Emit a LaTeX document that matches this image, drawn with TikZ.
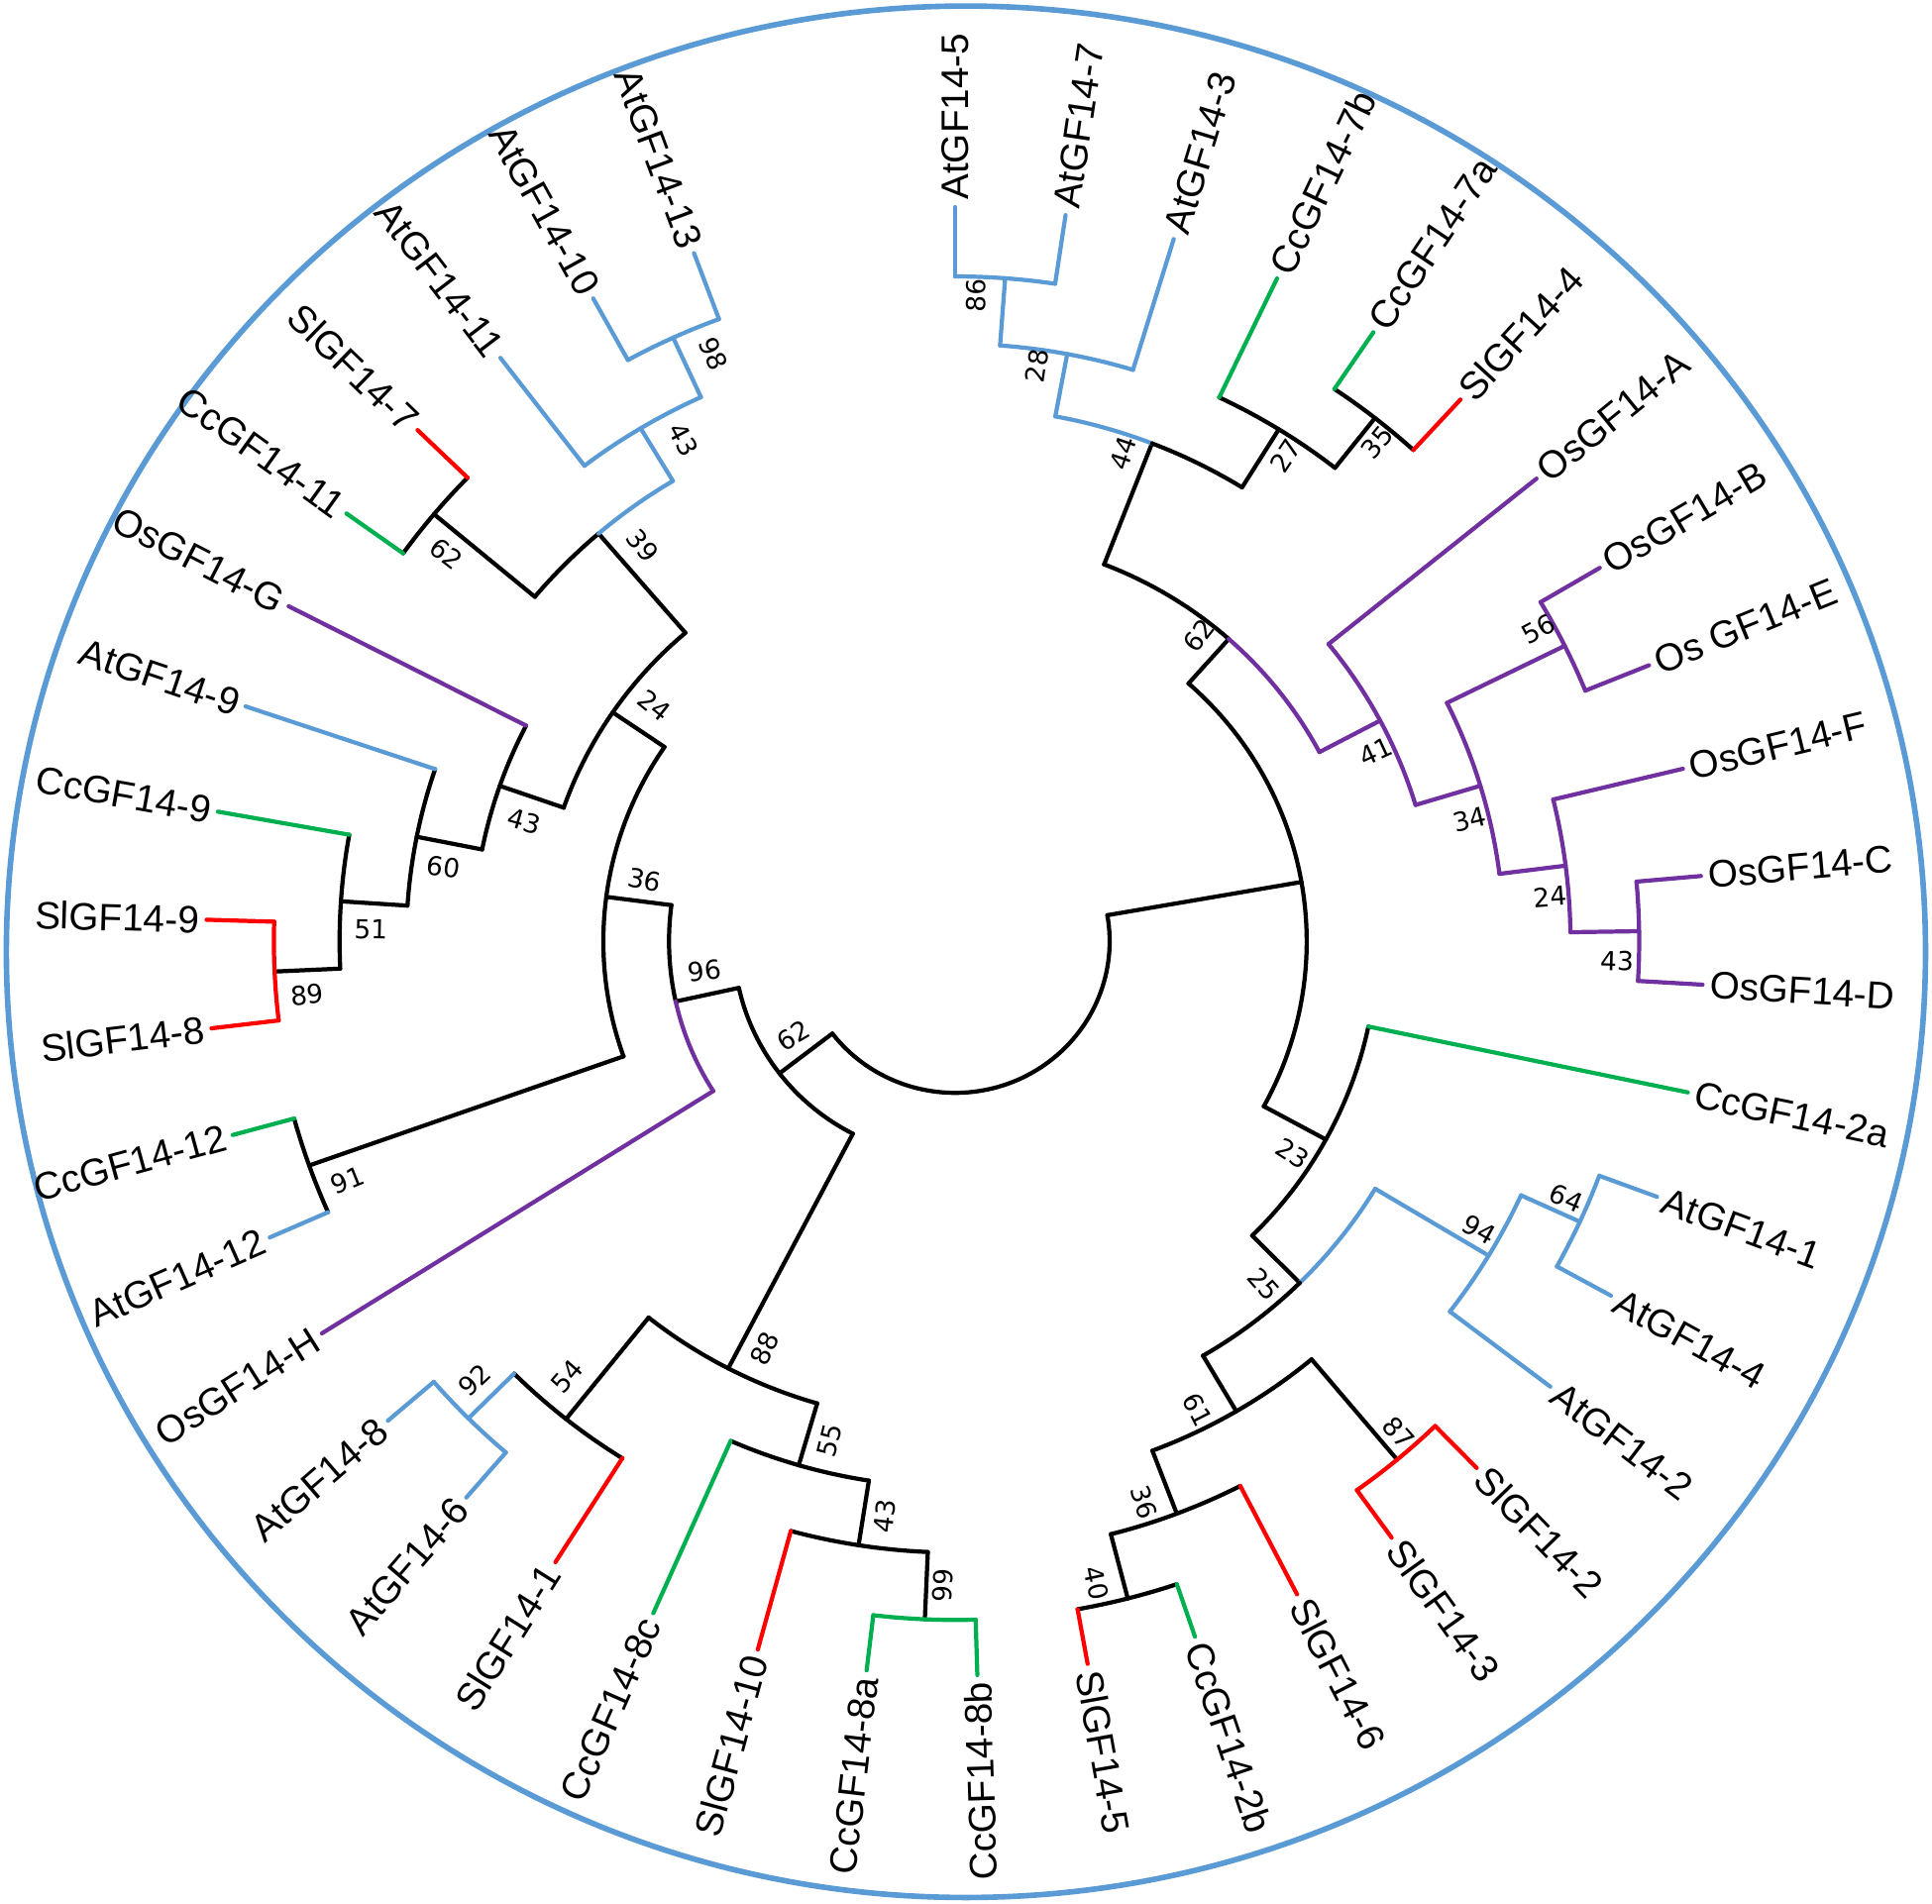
\documentclass[tikz,border=0pt]{standalone}
\usepackage{fontspec}
\setmainfont{Liberation Sans}
\newfontfamily\bootfont{DejaVu Sans}
\definecolor{atblue}{RGB}{91,155,213}
\definecolor{ccgreen}{RGB}{0,176,80}
\definecolor{slred}{RGB}{255,0,0}
\definecolor{ospurple}{RGB}{112,48,160}
\tikzset{
  ring/.style={draw=atblue, line width=1.6pt},
  taxlbl/.style={font=\fontsize{11}{13}\selectfont, inner sep=1.5pt},
  bootlbl/.style={font=\bootfont\fontsize{7.5}{9}\selectfont, inner sep=0pt}
}
\newcommand{\rleaf}{741}
\newcommand{\branch}[4]{\draw[#1] (#2:#3) -- (#2:#4);}
\newcommand{\clade}[4]{\draw[#1] (#3:#2) arc[start angle=#3, end angle=#4, radius=#2];}
\newcommand{\taxon}[3]{%
  \pgfmathsetmacro\tang{#2}%
  \pgfmathtruncatemacro\tflip{\tang<-86}%
  \ifnum\tflip=1
    \node[taxlbl, anchor=east, rotate=\tang+180] (#1) at (\tang:\rleaf) {#3};
  \else
    \node[taxlbl, anchor=west, rotate=\tang] (#1) at (\tang:\rleaf) {#3};
  \fi}
\newcommand{\boot}[4]{%
  \pgfmathsetmacro\bang{atan2(#3,#2)}%
  \pgfmathtruncatemacro\bflip{or(\bang>90,\bang<-86)}%
  \ifnum\bflip=1
    \node[bootlbl, rotate=\bang+180] (#1) at (#2,#3) {#4};
  \else
    \node[bootlbl, rotate=\bang] (#1) at (#2,#3) {#4};
  \fi}

\begin{document}
\begin{tikzpicture}[x=0.0102cm, y=0.01cm, line width=1.2pt, line cap=round]
    \useasboundingbox (-945,-971) rectangle (966.7,950);
    \draw[ring] (10.8,-10.6) ellipse [x radius=949.5, y radius=954.5];

    \clade{black}{153}{-142.5}{9.9}
    \branch{black}{9.9}{153}{348}
    \branch{black}{-142.5}{153}{219}

    \clade{black}{348}{-28.6}{48.4}
    \branch{black}{48.4}{348}{408}
    \branch{black}{-28.6}{348}{418}
    \clade{black}{408}{48.4}{68.8}
    \clade{ospurple}{408}{27.9}{48.4}
    \branch{black}{68.8}{408}{539}
    \branch{ospurple}{27.9}{408}{476}
    \clade{atblue}{539}{68.8}{79.39}
    \clade{black}{539}{58.2}{68.8}
    \branch{atblue}{79.39}{539}{603}
    \branch{black}{58.2}{539}{608}
    \clade{atblue}{603}{73.02}{85.76}
    \branch{atblue}{85.76}{603}{671}
    \branch{atblue}{73.02}{603}{\rleaf}
    \clade{atblue}{671}{81.51}{90}
    \branch{atblue}{90}{671}{\rleaf}
    \branch{atblue}{81.51}{671}{\rleaf}
    \clade{black}{608}{51.8}{64.53}
    \branch{ccgreen}{64.53}{608}{\rleaf}
    \branch{black}{51.8}{608}{672}
    \clade{black}{672}{47.55}{56.04}
    \branch{ccgreen}{56.04}{672}{\rleaf}
    \branch{slred}{47.55}{672}{\rleaf}
    \clade{ospurple}{476}{16.8}{39.06}
    \branch{ospurple}{39.06}{476}{\rleaf}
    \branch{ospurple}{16.8}{476}{543}
    \clade{ospurple}{543}{7.2}{26.3}
    \branch{ospurple}{26.3}{543}{673}
    \branch{ospurple}{7.2}{543}{609}
    \clade{ospurple}{673}{22.08}{30.57}
    \branch{ospurple}{30.57}{673}{\rleaf}
    \branch{ospurple}{22.08}{673}{\rleaf}
    \clade{ospurple}{609}{0.86}{13.59}
    \branch{ospurple}{13.59}{609}{\rleaf}
    \branch{ospurple}{0.86}{609}{677}
    \clade{ospurple}{677}{-3.39}{5.1}
    \branch{ospurple}{5.1}{677}{\rleaf}
    \branch{ospurple}{-3.39}{677}{\rleaf}
    \clade{black}{418}{-45.3}{-11.88}
    \branch{ccgreen}{-11.88}{418}{\rleaf}
    \branch{black}{-45.3}{418}{485}
    \clade{atblue}{485}{-45.3}{-31}
    \clade{black}{485}{-59.6}{-45.3}
    \branch{atblue}{-31}{485}{616}
    \branch{black}{-59.6}{485}{550}
    \clade{atblue}{616}{-37.35}{-24.6}
    \branch{atblue}{-37.35}{616}{\rleaf}
    \branch{atblue}{-24.6}{616}{680}
    \clade{atblue}{680}{-28.86}{-20.37}
    \branch{atblue}{-20.37}{680}{\rleaf}
    \branch{atblue}{-28.86}{680}{\rleaf}
    \clade{black}{550}{-69.2}{-50.1}
    \branch{black}{-50.1}{550}{682}
    \branch{black}{-69.2}{550}{618}
    \clade{slred}{682}{-54.33}{-45.84}
    \branch{slred}{-45.84}{682}{\rleaf}
    \branch{slred}{-54.33}{682}{\rleaf}
    \clade{black}{618}{-75.55}{-62.82}
    \branch{slred}{-62.82}{618}{\rleaf}
    \branch{black}{-75.55}{618}{685}
    \clade{black}{685}{-79.8}{-71.31}
    \branch{ccgreen}{-71.31}{685}{\rleaf}
    \branch{slred}{-79.8}{685}{\rleaf}

    \clade{black}{219}{-167.6}{-117.5}
    \branch{black}{-167.6}{219}{283}
    \branch{black}{-117.5}{219}{486}
    \clade{black}{283}{-187.4}{-167.6}
    \clade{ospurple}{283}{-167.6}{-147.72}
    \branch{ospurple}{-147.72}{283}{\rleaf}
    \branch{black}{-187.4}{283}{348}
    \clade{black}{348}{-214.3}{-160.5}
    \branch{black}{-214.3}{348}{410}
    \branch{black}{-160.5}{348}{678}
    \clade{black}{678}{-164.7}{-156.21}
    \branch{atblue}{-156.21}{678}{\rleaf}
    \branch{ccgreen}{-164.7}{678}{\rleaf}
    \clade{black}{410}{-229.4}{-199.2}
    \branch{black}{-199.2}{410}{477}
    \branch{black}{-229.4}{410}{542}
    \clade{black}{477}{-207.15}{-191.2}
    \branch{ospurple}{-207.15}{477}{\rleaf}
    \branch{black}{-191.2}{477}{543}
    \clade{black}{543}{-198.66}{-183.8}
    \branch{atblue}{-198.66}{543}{\rleaf}
    \branch{black}{-183.8}{543}{609}
    \clade{black}{609}{-190.17}{-177.4}
    \branch{ccgreen}{-190.17}{609}{\rleaf}
    \branch{black}{-177.4}{609}{674}
    \clade{slred}{674}{-181.68}{-173.19}
    \branch{slred}{-181.68}{674}{\rleaf}
    \branch{slred}{-173.19}{674}{\rleaf}
    \clade{black}{542}{-229.4}{-219.9}
    \clade{atblue}{542}{-239}{-229.4}
    \branch{black}{-219.9}{542}{672}
    \branch{atblue}{-239}{542}{604}
    \clade{black}{672}{-224.13}{-215.64}
    \branch{ccgreen}{-215.64}{672}{\rleaf}
    \branch{slred}{-224.13}{672}{\rleaf}
    \clade{atblue}{604}{-245.4}{-232.62}
    \branch{atblue}{-232.62}{604}{\rleaf}
    \branch{atblue}{-245.4}{604}{670}
    \clade{atblue}{670}{-249.6}{-241.11}
    \branch{atblue}{-241.11}{670}{\rleaf}
    \branch{atblue}{-249.6}{670}{\rleaf}
    \clade{black}{486}{-128.6}{-106.3}
    \branch{black}{-128.6}{486}{617}
    \branch{black}{-106.3}{486}{551}
    \clade{black}{617}{-135}{-122.25}
    \branch{slred}{-122.25}{617}{\rleaf}
    \branch{atblue}{-135}{617}{681}
    \clade{atblue}{681}{-139.23}{-130.74}
    \branch{atblue}{-130.74}{681}{\rleaf}
    \branch{atblue}{-139.23}{681}{\rleaf}
    \clade{black}{551}{-113.76}{-98.9}
    \branch{ccgreen}{-113.76}{551}{\rleaf}
    \branch{black}{-98.9}{551}{617}
    \clade{black}{617}{-105.27}{-92.5}
    \branch{slred}{-105.27}{617}{\rleaf}
    \branch{black}{-92.5}{617}{685}
    \clade{ccgreen}{685}{-96.78}{-88.29}
    \branch{ccgreen}{-88.29}{685}{\rleaf}
    \branch{ccgreen}{-96.78}{685}{\rleaf}

    \foreach \nm/\txt [count=\i from 0] in {at5/AtGF14-5, at7/AtGF14-7, at3/AtGF14-3,
        cc7b/CcGF14-7b, cc7a/CcGF14-7a, sl4/SlGF14-4, osA/OsGF14-A, osB/OsGF14-B,
        osE/Os GF14-E, osF/OsGF14-F, osC/OsGF14-C, osD/OsGF14-D, cc2a/CcGF14-2a,
        at1/AtGF14-1, at4/AtGF14-4, at2/AtGF14-2, sl2/SlGF14-2, sl3/SlGF14-3,
        sl6/SlGF14-6, cc2b/CcGF14-2b, sl5/SlGF14-5, cc8b/CcGF14-8b, cc8a/CcGF14-8a,
        sl10/SlGF14-10, cc8c/CcGF14-8c, sl1/SlGF14-1, at6/AtGF14-6, at8/AtGF14-8,
        osH/OsGF14-H, at12/AtGF14-12, cc12/CcGF14-12, sl8/SlGF14-8, sl9/SlGF14-9,
        cc9/CcGF14-9, at9/AtGF14-9, osG/OsGF14-G, cc11/CcGF14-11, sl7/SlGF14-7,
        at11/AtGF14-11, at10/AtGF14-10, at13/AtGF14-13}
        {\taxon{\nm}{90-8.49*\i}{\txt}}

    \foreach \nm/\bx/\by/\bt in {n86/21/652/86, n28/81/581/28, n44/166/493/44,
        n27/327/490/27, n35/418/504/35, n62a/241/309/62, n41/416/191/41,
        n34/509/123/34, n56/577/315/56, n24a/589/45/24, n43a/655/-20/43,
        n23/334/-214/23, n25/306/-346/25, n94/519/-291/94, n64/605/-259/64,
        n61/240/-473/61, n87/439/-496/87, n36a/187/-566/36, n40/140/-648/40,
        n99/-12/-650/99, n43b/-70/-580/43, n55/-124/-504/55, n88/-188/-411/88,
        n54/-384/-439/54, n92/-475/-443/92, n62b/-160/-95/62, n96/-248/-30/96,
        n91/-601/-241/91, n36b/-307/62/36, n89/-641/-54/89, n51/-578/12/51,
        n60/-506/75/60, n43c/-426/121/43, n24b/-297/238/24, n39/-309/399/39,
        n62c/-503/391/62, n43d/-269/506/43, n98/-239/593/98}
        {\boot{\nm}{\bx}{\by}{\bt}}
\end{tikzpicture}
\end{document}
